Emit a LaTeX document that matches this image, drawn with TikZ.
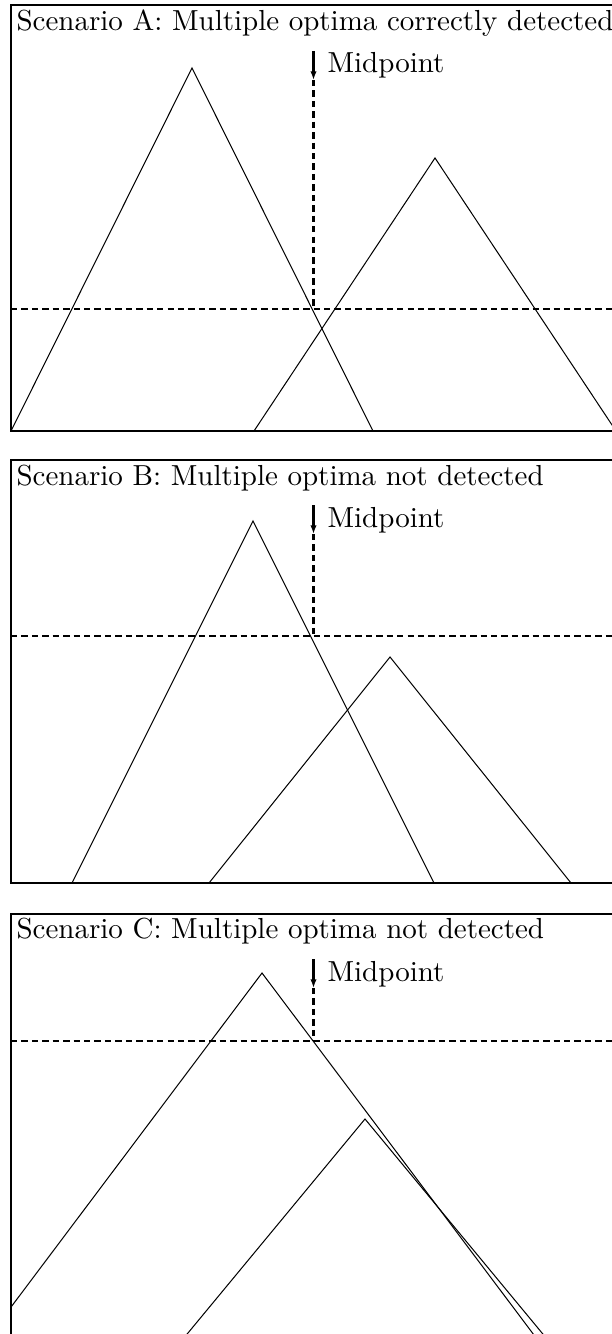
\documentclass[tikz,border=0pt]{standalone}
\usetikzlibrary{arrows.meta}
\tikzset{
  frame/.style={line width=0.75pt},
  tri/.style={line width=0.35pt, line join=miter},
  guide/.style={line width=0.7pt, dash pattern=on 2.2pt off 1.4pt},
  midarrow/.style={line width=0.7pt, -{Latex[length=3pt,width=2.2pt]}},
  title/.style={anchor=base west, inner sep=0pt},
}
\begin{document}
\begin{tikzpicture}[x=0.345pt,y=-0.345pt]
\useasboundingbox (0,0) rectangle (612,1334);
\clip (0,0) rectangle (612,1334);
% ---------------- Panel A ----------------
\begin{scope}
  \clip (11,5) rectangle (640,431);
  \draw[tri] (11,431) -- (192,68) -- (373,431);
  \draw[tri] (254,431) -- (435,158) -- (616,431);
\end{scope}
\coordinate (ha0) at (11,309);
\coordinate (ha1) at (640,309);
\draw[guide] (ha0) -- (ha1);
\coordinate (ma0) at (313.5,51);
\coordinate (ma1) at (313.5,80);
\coordinate (ma2) at (313.5,309);
\draw[midarrow] (ma0) -- (ma1);
\draw[guide] (ma1) -- (ma2);
\node[title] (mla) at (327,73) {Midpoint};
\node[title] (ta) at (16,31) {Scenario A: Multiple optima correctly detected};
\draw[frame] (11,5) rectangle (640,431);
% ---------------- Panel B ----------------
\begin{scope}
  \clip (11,460) rectangle (640,883);
  \draw[tri] (72,883) -- (253,521) -- (434,883);
  \draw[tri] (209,883) -- (390,657) -- (571,883);
\end{scope}
\coordinate (hb0) at (11,636);
\coordinate (hb1) at (640,636);
\draw[guide] (hb0) -- (hb1);
\coordinate (mb0) at (313.5,505);
\coordinate (mb1) at (313.5,534);
\coordinate (mb2) at (313.5,636);
\draw[midarrow] (mb0) -- (mb1);
\draw[guide] (mb1) -- (mb2);
\node[title] (mlb) at (327,527) {Midpoint};
\node[title] (tb) at (16,485) {Scenario B: Multiple optima not detected};
\draw[frame] (11,460) rectangle (640,883);
% ---------------- Panel C ----------------
\begin{scope}
  \clip (11,914) rectangle (640,1339);
  \draw[tri] (-13,1339) -- (262,973) -- (537,1339);
  \draw[tri] (183,1339) -- (365,1119) -- (547,1339);
\end{scope}
\coordinate (hc0) at (11,1041);
\coordinate (hc1) at (640,1041);
\draw[guide] (hc0) -- (hc1);
\coordinate (mc0) at (313.5,959);
\coordinate (mc1) at (313.5,988);
\coordinate (mc2) at (313.5,1041);
\draw[midarrow] (mc0) -- (mc1);
\draw[guide] (mc1) -- (mc2);
\node[title] (mlc) at (327,981) {Midpoint};
\node[title] (tc) at (16,938) {Scenario C: Multiple optima not detected};
\draw[frame] (11,914) rectangle (640,1339);
\end{tikzpicture}
\end{document}
